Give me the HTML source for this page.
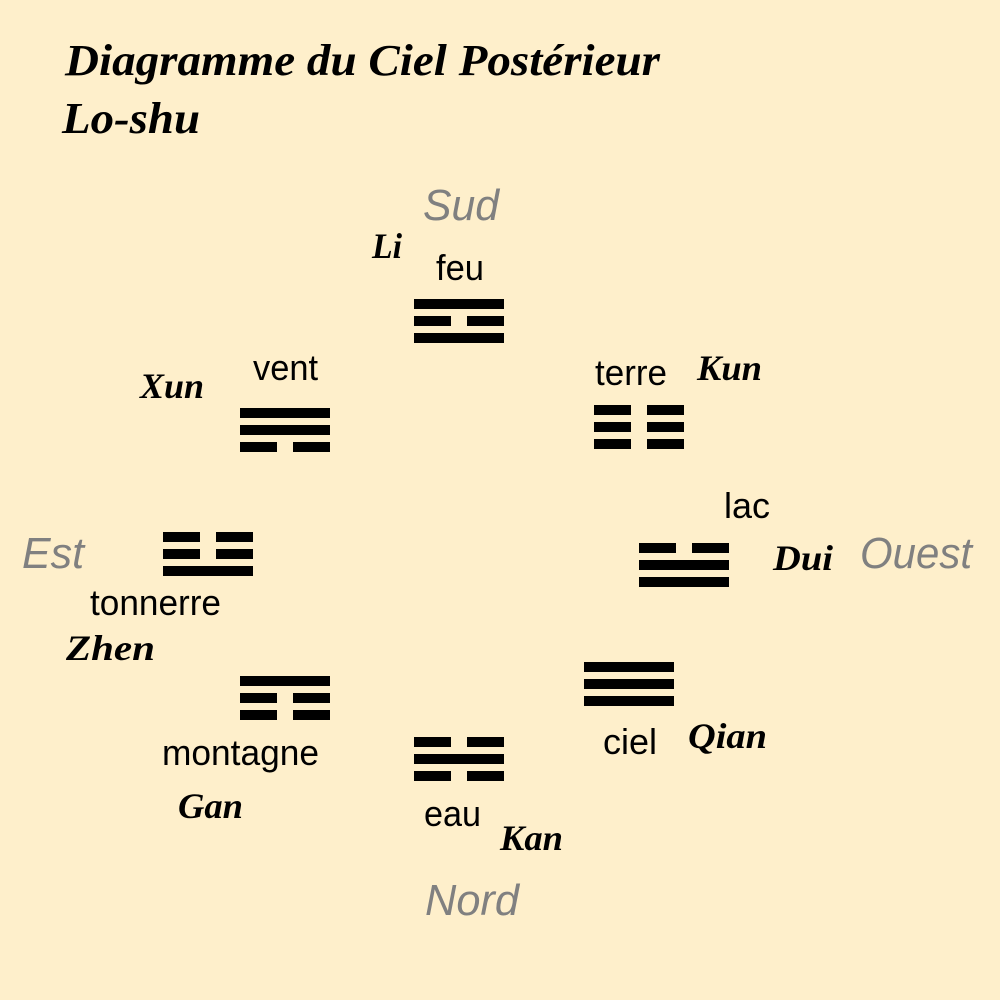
<!DOCTYPE html>
<html><head><meta charset="utf-8"><style>
html,body{margin:0;padding:0;background:#FEEFCB;}
svg{display:block}
.s{font-family:"Liberation Sans",sans-serif;font-size:36px;fill:#000}
.c{font-family:"Liberation Serif",serif;font-style:italic;font-weight:bold;fill:#000}
.g{font-family:"Liberation Sans",sans-serif;font-style:italic;font-size:44px;fill:#808080}
</style></head><body>
<svg width="1000" height="1000" viewBox="0 0 1000 1000" xmlns="http://www.w3.org/2000/svg">
<rect width="1000" height="1000" fill="#FEEFCB"/>
<text class="c" x="65" y="75" font-size="44" textLength="595" lengthAdjust="spacingAndGlyphs">Diagramme du Ciel Postérieur</text>
<text class="c" x="62" y="133" font-size="44" textLength="138" lengthAdjust="spacingAndGlyphs">Lo-shu</text>

<text class="g" x="423" y="220" textLength="76" lengthAdjust="spacingAndGlyphs">Sud</text>
<text class="g" x="860" y="568" textLength="112" lengthAdjust="spacingAndGlyphs">Ouest</text>
<text class="g" x="22" y="568" textLength="62" lengthAdjust="spacingAndGlyphs">Est</text>
<text class="g" x="425" y="915" textLength="94" lengthAdjust="spacingAndGlyphs">Nord</text>

<g class="s">
<text x="436" y="280" textLength="48" lengthAdjust="spacingAndGlyphs">feu</text>
<text x="253" y="380" textLength="65" lengthAdjust="spacingAndGlyphs">vent</text>
<text x="595" y="385" textLength="72" lengthAdjust="spacingAndGlyphs">terre</text>
<text x="724" y="518" textLength="46" lengthAdjust="spacingAndGlyphs">lac</text>
<text x="90" y="615" textLength="131" lengthAdjust="spacingAndGlyphs">tonnerre</text>
<text x="162" y="765" textLength="157" lengthAdjust="spacingAndGlyphs">montagne</text>
<text x="603" y="754" textLength="54" lengthAdjust="spacingAndGlyphs">ciel</text>
<text x="424" y="826" textLength="57" lengthAdjust="spacingAndGlyphs">eau</text>
</g>
<g class="c" font-size="36">
<text x="372" y="258" textLength="30" lengthAdjust="spacingAndGlyphs">Li</text>
<text x="140" y="398" textLength="64" lengthAdjust="spacingAndGlyphs">Xun</text>
<text x="697" y="380" textLength="65" lengthAdjust="spacingAndGlyphs">Kun</text>
<text x="773" y="570" textLength="60" lengthAdjust="spacingAndGlyphs">Dui</text>
<text x="66" y="660" textLength="89" lengthAdjust="spacingAndGlyphs">Zhen</text>
<text x="178" y="818" textLength="65" lengthAdjust="spacingAndGlyphs">Gan</text>
<text x="688" y="748" textLength="79" lengthAdjust="spacingAndGlyphs">Qian</text>
<text x="500" y="850" textLength="63" lengthAdjust="spacingAndGlyphs">Kan</text>
</g>

<defs>
<rect id="S" width="90" height="10"/>
<g id="B"><rect width="37" height="10"/><rect x="53" width="37" height="10"/></g>
</defs>
<g fill="#000">
<use href="#S" x="414" y="299"/><use href="#B" x="414" y="316"/><use href="#S" x="414" y="333"/>
<use href="#B" x="594" y="405"/><use href="#B" x="594" y="422"/><use href="#B" x="594" y="439"/>
<use href="#S" x="240" y="408"/><use href="#S" x="240" y="425"/><use href="#B" x="240" y="442"/>
<use href="#B" x="163" y="532"/><use href="#B" x="163" y="549"/><use href="#S" x="163" y="566"/>
<use href="#B" x="639" y="543"/><use href="#S" x="639" y="560"/><use href="#S" x="639" y="577"/>
<use href="#S" x="584" y="662"/><use href="#S" x="584" y="679"/><use href="#S" x="584" y="696"/>
<use href="#S" x="240" y="676"/><use href="#B" x="240" y="693"/><use href="#B" x="240" y="710"/>
<use href="#B" x="414" y="737"/><use href="#S" x="414" y="754"/><use href="#B" x="414" y="771"/>
</g>
</svg>
</body></html>
